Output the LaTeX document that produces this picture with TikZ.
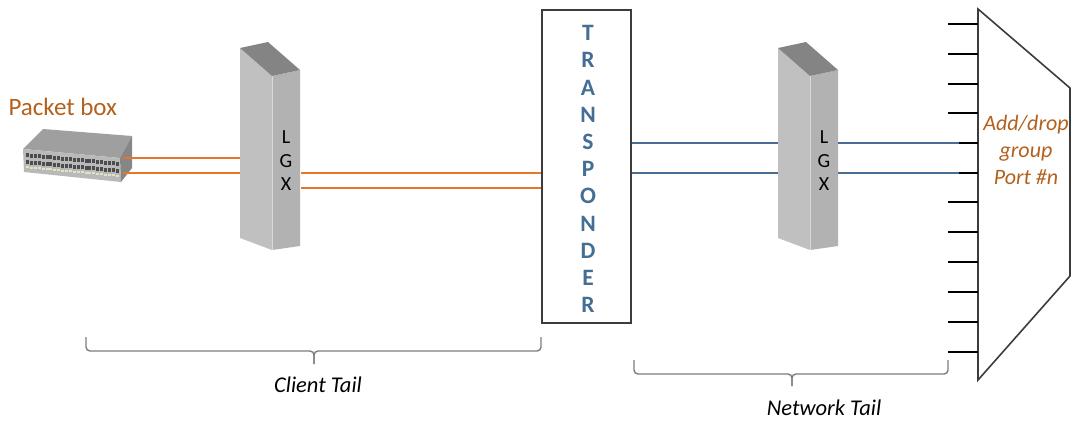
\documentclass[tikz,border=0pt]{standalone}
\usepackage{fontspec}
\setmainfont{Carlito}
\definecolor{wireorange}{RGB}{228,120,40}
\definecolor{labelorange}{RGB}{178,98,30}
\definecolor{wireblue}{RGB}{72,108,148}
\definecolor{tptext}{RGB}{68,110,148}
\definecolor{bracegray}{RGB}{125,125,125}
\definecolor{boxline}{RGB}{60,60,60}
\definecolor{lgxleft}{RGB}{192,192,192}
\definecolor{lgxright}{RGB}{178,178,178}
\definecolor{lgxtop}{RGB}{132,132,132}
\begin{document}
\begin{tikzpicture}[x=1pt,y=-1pt,
  owire/.style={wireorange,line width=1.5pt},
  bwire/.style={wireblue,line width=1.5pt},
  tick/.style={black,line width=2pt},
  brace/.style={bracegray,line width=1.4pt,rounded corners=4pt},
  tailtext/.style={font=\fontsize{22.5}{26}\selectfont\itshape},
  lgx/.pic={
    \fill[lgxleft] (0,0) -- (32,28) -- (32,202) -- (0,190) -- cycle;
    \fill[lgxright] (32,28) -- (60,22) -- (60,198) -- (32,202) -- cycle;
    \fill[lgxtop] (0,0) -- (28,-6) -- (60,22) -- (32,28) -- cycle;
    \draw[white!85!black,line width=0.6pt] (32,28) -- (32,202);
    \node[font=\fontsize{20}{23.5}\selectfont,align=center] (-txt) at (46,113) {L\\G\\X};
  }]
\useasboundingbox (0,0) rectangle (1073,421);

% packet switch
\node[labelorange,font=\fontsize{25}{30}\selectfont,anchor=west] (pktlabel) at (5,107) {Packet box};
\fill[gray!75] (43,129) -- (132,136) -- (120,158) -- (23,149) -- cycle;
\fill[gray!55] (23,149) -- (120,158) -- (121,182) -- (24,172) -- cycle;
\fill[gray!95] (120,158) -- (132,136) -- (132,168) -- (121,182) -- cycle;
\foreach \i in {0,...,23}{
  \pgfmathsetmacro\px{26+\i*3.9}
  \pgfmathsetmacro\s{(\px-23)*0.093}
  \fill[black!70] (\px,153+\s) rectangle ++(3,4);
  \fill[black!70] (\px,160+\s) rectangle ++(3,4);
  \fill[yellow!40!gray!40] (\px,166+\s) rectangle ++(3,2);
}
\coordinate (swA) at (123,158);
\coordinate (swB) at (123,173);

% client side LGX
\pic (lgA) at (240,48) {lgx};
\coordinate (lgAinA) at (240,158);
\coordinate (lgAinB) at (240,173);
\coordinate (lgAoutA) at (301,173);
\coordinate (lgAoutB) at (301,188);

% transponder
\node[draw=boxline,line width=1.8pt,fill=white,minimum width=89pt,minimum height=313pt,inner sep=0pt] (tp) at (586.5,166.5) {};
\node[tptext,font=\fontsize{23.5}{27.2}\selectfont\bfseries,align=center] (tptxt) at (588,169)
  {T\\R\\A\\N\\S\\P\\O\\N\\D\\E\\R};

% network side LGX
\pic (lgB) at (778,48) {lgx};
\coordinate (lgBinA) at (778,143);
\coordinate (lgBinB) at (778,173);
\coordinate (lgBoutA) at (838,143);
\coordinate (lgBoutB) at (838,173);

% add/drop mux
\coordinate (muxTL) at (978,9);
\coordinate (muxTR) at (1070,88);
\coordinate (muxBR) at (1070,276);
\coordinate (muxBL) at (978,380);
\draw[boxline,line width=1.6pt,fill=white] (muxTL) -- (muxTR) -- (muxBR) -- (muxBL) -- cycle;
\node[labelorange,font=\fontsize{22}{27}\selectfont\itshape,align=center] (muxtxt) at (1026,150)
  {Add/drop\\group\\Port \#n};
\coordinate (muxA) at (960,143);
\coordinate (muxB) at (960,173);

% client wires
\draw[owire] (swA) -- (lgAinA);
\draw[owire] (swB) -- (lgAinB);
\draw[owire] (lgAoutA) -- (lgAoutA -| tp.west);
\draw[owire] (lgAoutB) -- (lgAoutB -| tp.west);

% network wires
\draw[bwire] (lgBinA -| tp.east) -- (lgBinA);
\draw[bwire] (lgBinB -| tp.east) -- (lgBinB);
\draw[bwire] (lgBoutA) -- (muxA);
\draw[bwire] (lgBoutB) -- (muxB);

% mux ports
\foreach \ty in {24,54,84,113,143,173,202,232,262,292,322,352}{
  \ifnum\ty=143 \draw[tick] (959,\ty) -- (978,\ty);
  \else\ifnum\ty=173 \draw[tick] (959,\ty) -- (978,\ty);
  \else \draw[tick] (948,\ty) -- (978,\ty);\fi\fi
}

% tails
\draw[brace] (86,337) |- (314,351) -- (314,364);
\draw[brace] (541,337) |- (314,351) -- (314,364);
\node[tailtext] (clienttail) at (318,385) {Client Tail};
\draw[brace] (634,360) |- (792,374) -- (792,386);
\draw[brace] (948,360) |- (792,374) -- (792,386);
\node[tailtext] (nettail) at (824,408) {Network Tail};
\end{tikzpicture}
\end{document}
